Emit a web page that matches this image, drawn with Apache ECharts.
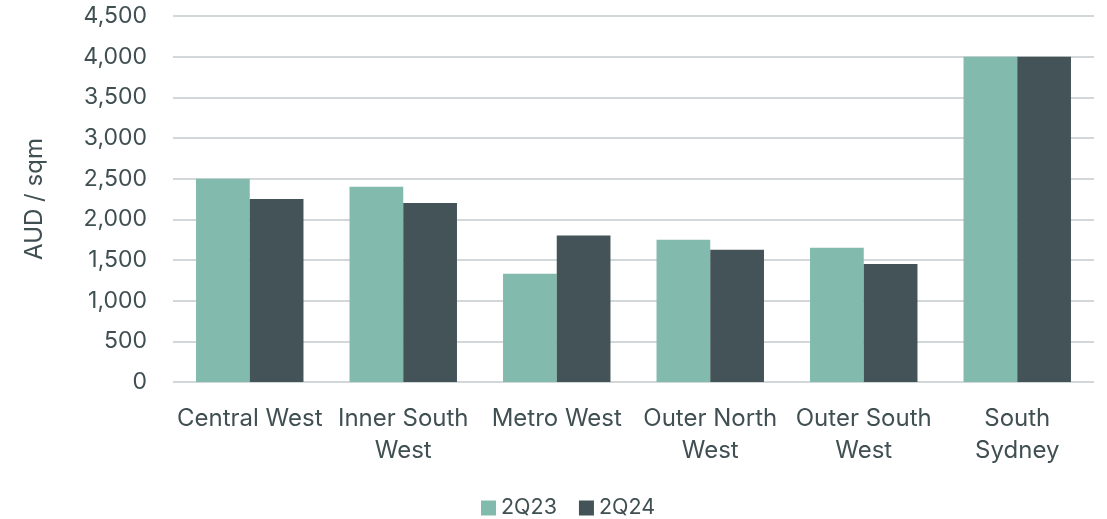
<!DOCTYPE html>
<html><head><meta charset="utf-8">
<script src="https://cdn.jsdelivr.net/npm/echarts@6/dist/echarts.min.js"></script>
<style>html,body{margin:0;padding:0;background:#fff}#c{width:1107px;height:519px}</style>
</head><body><div id="c"></div>
<script>
const categories = ['Central West', 'Inner South\nWest', 'Metro West', 'Outer North\nWest', 'Outer South\nWest', 'South\nSydney'];
const series2Q23 = [2500, 2400, 1330, 1750, 1650, 4000];
const series2Q24 = [2250, 2200, 1800, 1625, 1450, 4000];
const seriesNames = ['2Q23', '2Q24'];
const yTicks = { min: 0, max: 4500, interval: 500 };

const textColor = '#404f52';
const font = 'Inter, Roboto, sans-serif';
const chart = echarts.init(document.getElementById('c'), null, { renderer: 'canvas' });
chart.setOption({
  animation: false,
  textStyle: { fontFamily: font },
  grid: { left: 173, right: 13, top: 16, bottom: 137 },
  legend: {
    top: 492, left: 476, itemWidth: 15, itemHeight: 15, itemGap: 22,
    icon: 'rect',
    textStyle: { color: textColor, fontSize: 21.5, fontFamily: font },
    data: seriesNames
  },
  xAxis: {
    type: 'category', data: categories,
    axisLine: { show: false }, axisTick: { show: false },
    axisLabel: { color: textColor, fontSize: 24, lineHeight: 32, margin: 21, interval: 0, fontFamily: font }
  },
  yAxis: {
    type: 'value', min: yTicks.min, max: yTicks.max, interval: yTicks.interval,
    name: 'AUD / sqm', nameLocation: 'middle', nameGap: 126, nameRotate: 90,
    nameTextStyle: { color: textColor, fontSize: 24, fontFamily: font },
    axisLine: { show: false }, axisTick: { show: false },
    axisLabel: { color: textColor, fontSize: 23, margin: 26, fontFamily: font,
      formatter: v => v.toLocaleString('en-US') },
    splitLine: { lineStyle: { color: '#d2d8d9', width: 2 } }
  },
  series: [
    { name: seriesNames[0], type: 'bar', data: series2Q23, barWidth: '35%', barGap: '0%',
      itemStyle: { color: '#82bbad' } },
    { name: seriesNames[1], type: 'bar', data: series2Q24, barWidth: '35%', barGap: '0%',
      itemStyle: { color: '#435357' } }
  ]
});
</script></body></html>
